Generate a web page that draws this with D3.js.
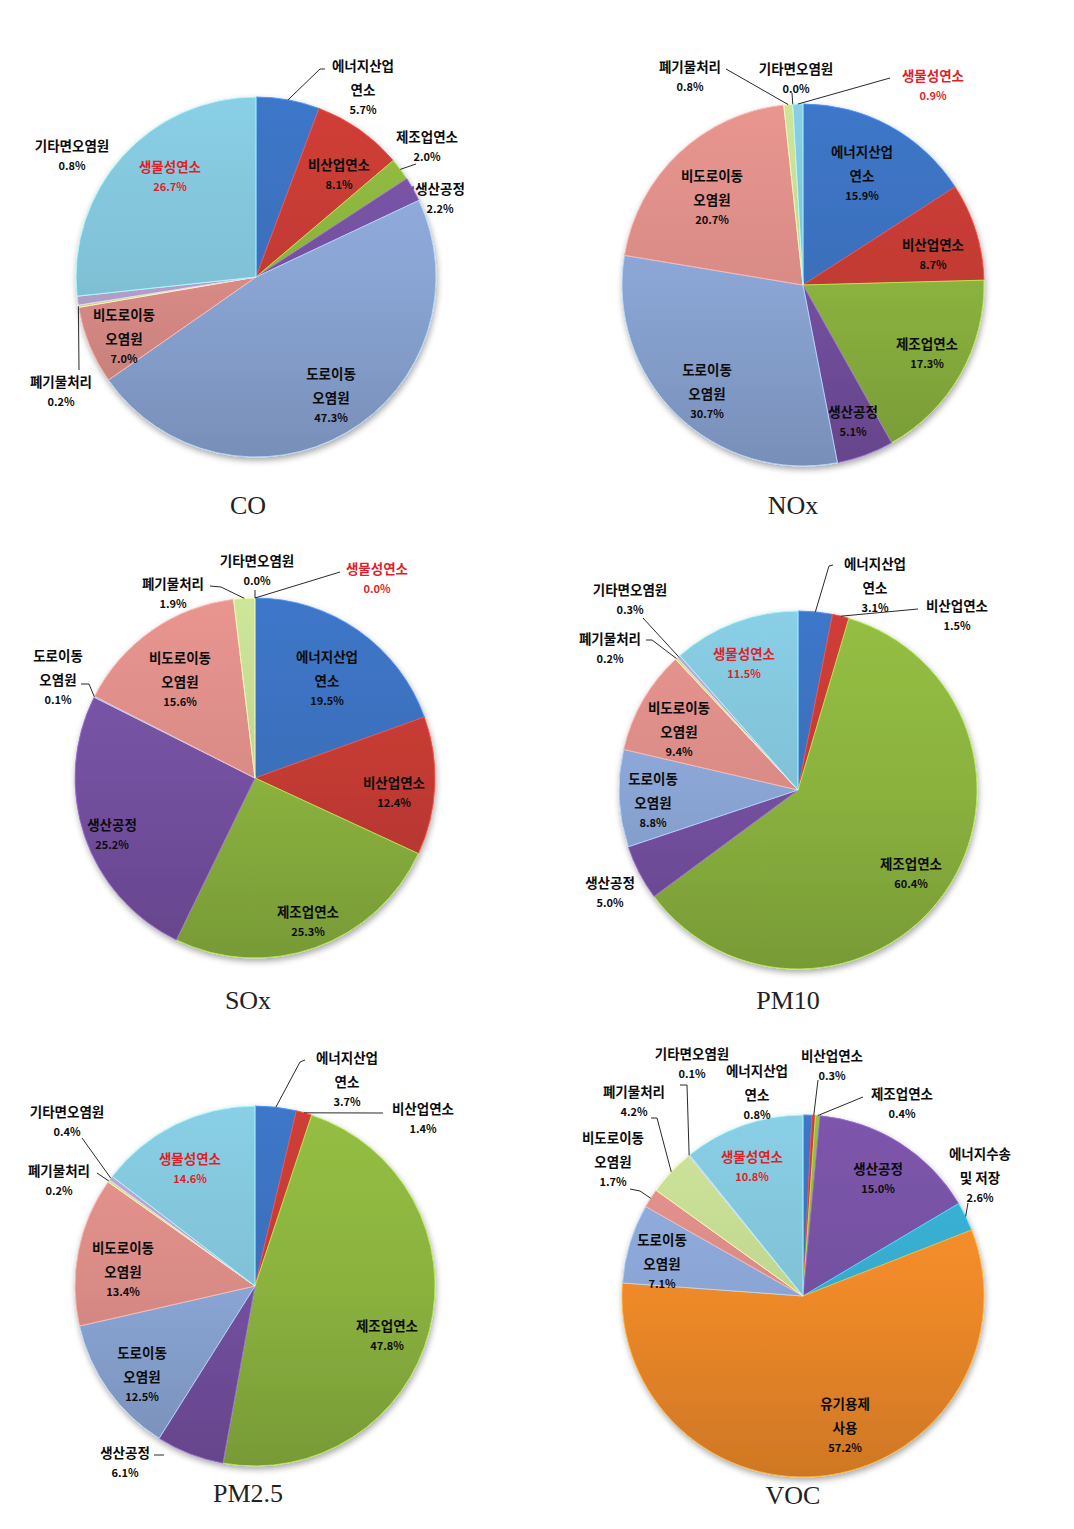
<!DOCTYPE html>
<html>
<head>
<meta charset="utf-8">
<script src="https://cdn.jsdelivr.net/npm/d3@7"></script>
<style>
  html, body { margin: 0; padding: 0; background: #ffffff; }
  svg { display: block; }
</style>
</head>
<body>
<svg id="chart" width="1074" height="1529"></svg>
<script>
// ---------------- DATA ----------------
const categories = ["에너지산업연소","비산업연소","제조업연소","생산공정","도로이동오염원","비도로이동오염원","폐기물처리","기타면오염원","생물성연소"];
const categoriesVOC = ["에너지산업연소","비산업연소","제조업연소","생산공정","에너지수송및저장","유기용제사용","도로이동오염원","비도로이동오염원","폐기물처리","기타면오염원","생물성연소"];
const coValues   = [5.7, 8.1, 2.0, 2.2, 47.3, 7.0, 0.2, 0.8, 26.7];
const noxValues  = [15.9, 8.7, 17.3, 5.1, 30.7, 20.7, 0.8, 0.0, 0.9];
const soxValues  = [19.5, 12.4, 25.3, 25.2, 0.1, 15.6, 1.9, 0.0, 0.0];
const pm10Values = [3.1, 1.5, 60.4, 5.0, 8.8, 9.4, 0.2, 0.3, 11.5];
const pm25Values = [3.7, 1.4, 47.8, 6.1, 12.5, 13.4, 0.2, 0.4, 14.6];
const vocValues  = [0.8, 0.3, 0.4, 15.0, 2.6, 57.2, 7.1, 1.7, 4.2, 0.1, 10.8];
const chartTitles = ["CO", "NOx", "SOx", "PM10", "PM2.5", "VOC"];

// ---------------- STYLE / LAYOUT ----------------
const categoryLines = {
  "에너지산업연소": ["에너지산업", "연소"],
  "비산업연소": ["비산업연소"],
  "제조업연소": ["제조업연소"],
  "생산공정": ["생산공정"],
  "도로이동오염원": ["도로이동", "오염원"],
  "비도로이동오염원": ["비도로이동", "오염원"],
  "폐기물처리": ["폐기물처리"],
  "기타면오염원": ["기타면오염원"],
  "생물성연소": ["생물성연소"],
  "에너지수송및저장": ["에너지수송", "및 저장"],
  "유기용제사용": ["유기용제", "사용"]
};
const categoryColors = {
  "에너지산업연소": "#3a6fbb",
  "비산업연소": "#c23a33",
  "제조업연소": "#8ab23e",
  "생산공정": "#7450a0",
  "도로이동오염원": "#8aa5d4",
  "비도로이동오염원": "#d98b86",
  "폐기물처리": "#c0d68f",
  "기타면오염원": "#b1a1c9",
  "생물성연소": "#80c1d6",
  "에너지수송및저장": "#36aacc",
  "유기용제사용": "#ee8929"
};

// label anchor (centre of first line) per slice, leaders: label-side points -> pie edge
const layouts = [
  { title: "CO", values: coValues, cats: categories, cx: 256, cy: 277, r: 180, titlePos: [248, 505],
    labels: [[363,65],[339,164],[427,136],[440,188],[331,373],[124,314],[61,381],[72,145],[170,166]],
    leaders: { 0: [[325,69],[320,69]], 2: [[416,164]], 3: [[413,186]], 6: [[79,370]] } },
  { title: "NOx", values: noxValues, cats: categories, cx: 803, cy: 285, r: 181, titlePos: [793, 505],
    labels: [[862,151],[933,244],[927,343],[853,411],[707,369],[712,175],[690,66],[796,68],[933,75]],
    leaders: { 6: [[726,69]], 7: [[792,93]], 8: [[890,78]] } },
  { title: "SOx", values: soxValues, cats: categories, cx: 255, cy: 778, r: 180, titlePos: [248, 1000],
    labels: [[327,656],[394,782],[308,911],[112,824],[58,655],[180,657],[173,583],[257,560],[377,568]],
    leaders: { 4: [[81,684],[89,684]], 6: [[210,586],[221,587]], 7: [[255,590]], 8: [[340,572]] } },
  { title: "PM10", values: pm10Values, cats: categories, cx: 798, cy: 790, r: 179, titlePos: [788, 1000],
    labels: [[875,563],[957,605],[911,863],[610,882],[653,778],[679,707],[610,638],[630,589],[744,653]],
    leaders: { 0: [[833,565],[829,566]], 1: [[918,609]], 6: [[646,640],[652,640]], 7: [[643,618]] } },
  { title: "PM2.5", values: pm25Values, cats: categories, cx: 255, cy: 1286, r: 180, titlePos: [248, 1493],
    labels: [[347,1057],[423,1108],[387,1325],[125,1452],[142,1352],[123,1247],[59,1170],[67,1111],[190,1158]],
    leaders: { 0: [[305,1060],[300,1062]], 1: [[383,1113]], 6: [[97,1173]], 7: [[82,1138]] },
    freeLeaders: { 3: [[154,1455],[164,1455]] } },
  { title: "VOC", values: vocValues, cats: categoriesVOC, cx: 803, cy: 1296, r: 181, titlePos: [793, 1495],
    labels: [[757,1070],[832,1055],[902,1093],[878,1168],[980,1153],[845,1403],[662,1239],[613,1137],[634,1091],[692,1053],[752,1156]],
    leaders: { 1: [[818,1080]], 2: [[863,1097]], 4: [[968,1203]], 7: [[630,1189],[640,1191]], 8: [[651,1118],[657,1118]], 9: [[680,1085],[687,1085]] } }
];

const labelFont = "'Noto Sans CJK KR', 'Noto Sans', sans-serif";
const nameLineGap = 23.5;
const pctLineGap = 20;

// ---------------- DRAW ----------------
const svg = d3.select("#chart");
const defs = svg.append("defs");

const shadow = defs.append("filter").attr("id", "pieShadow")
  .attr("x", "-20%").attr("y", "-20%").attr("width", "140%").attr("height", "140%");
shadow.append("feDropShadow").attr("dx", 1).attr("dy", 3).attr("stdDeviation", 3)
  .attr("flood-color", "#000").attr("flood-opacity", 0.35);

const pie = d3.pie().sort(null).value(d => d.value);

layouts.forEach((L, ci) => {
  const data = L.cats.map((c, i) => ({ cat: c, value: L.values[i] }));
  const arcs = pie(data);
  const arc = d3.arc().innerRadius(0).outerRadius(L.r);
  const edgeArc = d3.arc().innerRadius(L.r).outerRadius(L.r);

  L.cats.forEach((c, i) => {
    const base = d3.color(categoryColors[c]);
    const g = defs.append("linearGradient")
      .attr("id", `grad-${ci}-${i}`)
      .attr("gradientUnits", "userSpaceOnUse")
      .attr("x1", 0).attr("x2", 0)
      .attr("y1", -L.r).attr("y2", L.r);
    g.append("stop").attr("offset", "0%").attr("stop-color", base.brighter(0.2).formatHex());
    g.append("stop").attr("offset", "50%").attr("stop-color", base.formatHex());
    g.append("stop").attr("offset", "100%").attr("stop-color", base.darker(0.4).formatHex());
  });

  const g = svg.append("g").attr("transform", `translate(${L.cx},${L.cy})`);

  const pieG = g.append("g").attr("filter", "url(#pieShadow)");
  pieG.selectAll("path.slice")
    .data(arcs)
    .join("path")
    .attr("class", "slice")
    .attr("d", arc)
    .attr("fill", (d, i) => `url(#grad-${ci}-${i})`)
    .attr("stroke", d => d3.color(categoryColors[d.data.cat]).brighter(0.8).formatHex())
    .attr("stroke-width", d => d.value > 0 ? 0.9 : 0)
    .attr("stroke-linejoin", "round");

  const lineGen = d3.line();
  Object.entries(L.leaders || {}).forEach(([idx, pts]) => {
    const a = arcs[+idx];
    const e = edgeArc.centroid(a);
    const rel = pts.map(p => [p[0] - L.cx, p[1] - L.cy]);
    g.append("path")
      .attr("d", lineGen(rel.concat([e])))
      .attr("fill", "none").attr("stroke", "#111").attr("stroke-width", 0.9);
  });
  Object.entries(L.freeLeaders || {}).forEach(([idx, pts]) => {
    const rel = pts.map(p => [p[0] - L.cx, p[1] - L.cy]);
    g.append("path")
      .attr("d", lineGen(rel))
      .attr("fill", "none").attr("stroke", "#111").attr("stroke-width", 0.9);
  });

  arcs.forEach((a, i) => {
    const pos = L.labels[i];
    const cat = a.data.cat;
    const lines = categoryLines[cat];
    const isBio = cat === "생물성연소";
    const color = isBio ? "#e01f2a" : "#0c0c0c";
    const t = svg.append("g").attr("class", "label");
    lines.forEach((ln, k) => {
      t.append("text")
        .attr("x", pos[0]).attr("y", pos[1] + k * nameLineGap)
        .attr("text-anchor", "middle").attr("dominant-baseline", "central")
        .attr("font-family", labelFont).attr("font-size", 13.5)
        .attr("font-weight", 700)
        .attr("fill", color)
        .text(ln);
    });
    t.append("text")
      .attr("x", pos[0]).attr("y", pos[1] + (lines.length - 1) * nameLineGap + pctLineGap)
      .attr("text-anchor", "middle").attr("dominant-baseline", "central")
      .attr("font-family", labelFont).attr("font-size", 11)
      .attr("font-weight", 700)
      .attr("fill", color)
      .text(a.data.value.toFixed(1) + "%");
  });

  svg.append("text")
    .attr("x", L.titlePos[0]).attr("y", L.titlePos[1])
    .attr("text-anchor", "middle").attr("dominant-baseline", "central")
    .attr("font-family", "'Liberation Serif', 'DejaVu Serif', serif")
    .attr("font-size", 26).attr("fill", "#222")
    .text(chartTitles[ci]);
});
</script>
</body>
</html>
